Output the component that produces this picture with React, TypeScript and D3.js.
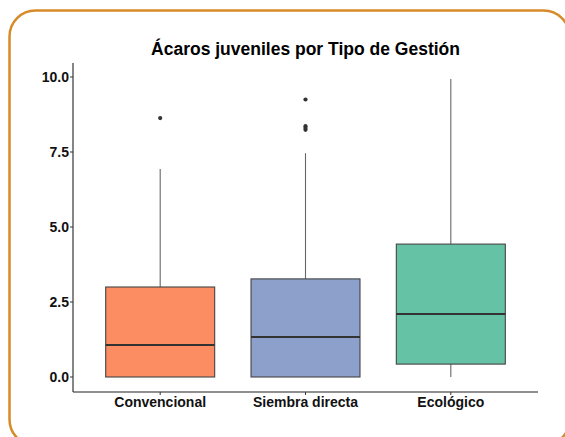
import * as d3 from 'd3'

const W = 565
const H = 437
const MARGIN = { top: 77, right: 27, bottom: 45, left: 73 }

const CATEGORIES = ['Convencional', 'Siembra directa', 'Ecológico']
const FILLS = ['#FC8D62', '#8DA0CB', '#66C2A5']
const LOWER = [0, 0, 0]
const Q1 = [0, 0, 0.43]
const MEDIAN = [1.07, 1.33, 2.1]
const Q3 = [3.0, 3.27, 4.43]
const UPPER = [6.93, 7.46, 9.93]
const OUTLIERS = [[8.63], [9.25, 8.36, 8.3, 8.24], []]
const Y_TICKS = [0, 2.5, 5, 7.5, 10]

const FONT = '"Liberation Sans", Arial, Helvetica, sans-serif'

export default function App() {
  const x0 = MARGIN.left
  const x1 = W - MARGIN.right
  const yBottom = H - MARGIN.bottom

  // ggplot style discrete axis: 0.6 expansion on both sides
  const x = d3.scaleLinear().domain([0.4, CATEGORIES.length + 0.6]).range([x0, x1])
  const y = d3.scaleLinear().domain([0, 10]).range([377, 77])
  const boxW = (x(1) - x(0)) * 0.75

  return (
    <div style={{ position: 'absolute', left: 0, top: 0 }}>
      <svg width={W} height={H} style={{ display: 'block', fontFamily: FONT }}>
        <rect x={0} y={0} width={W} height={H} fill="#fff" />
        <rect x={9.5} y={10.5} width={560} height={435} rx={26} ry={26}
          fill="none" stroke="#D68B28" strokeWidth={2.5} />

        <text x={(x0 + x1) / 2} y={55} textAnchor="middle" fontSize={17.5} fontWeight="bold" fill="#000">
          Ácaros juveniles por Tipo de Gestión
        </text>

        {/* boxes */}
        {CATEGORIES.map((c, i) => {
          const cx = x(i + 1)
          return (
            <g key={c}>
              <line x1={cx} x2={cx} y1={y(Q3[i])} y2={y(UPPER[i])} stroke="#666" strokeWidth={1.1} />
              <line x1={cx} x2={cx} y1={y(Q1[i])} y2={y(LOWER[i])} stroke="#666" strokeWidth={1.1} />
              <rect x={cx - boxW / 2} y={y(Q3[i])} width={boxW} height={y(Q1[i]) - y(Q3[i])}
                fill={FILLS[i]} stroke="#444" strokeWidth={1.1} />
              <line x1={cx - boxW / 2} x2={cx + boxW / 2} y1={y(MEDIAN[i])} y2={y(MEDIAN[i])}
                stroke="#333" strokeWidth={2} />
              {OUTLIERS[i].map((v, j) => (
                <circle key={j} cx={cx} cy={y(v)} r={2.1} fill="#333" />
              ))}
            </g>
          )
        })}

        {/* y axis */}
        <line x1={x0} x2={x0} y1={63} y2={yBottom} stroke="#222" strokeWidth={1.1} />
        {Y_TICKS.map(t => (
          <g key={t}>
            <line x1={x0 - 3} x2={x0} y1={y(t)} y2={y(t)} stroke="#333" strokeWidth={1} />
            <text x={x0 - 4} y={y(t)} dy="0.36em" textAnchor="end" fontSize={14} fontWeight="bold" fill="#111">
              {d3.format('.1f')(t)}
            </text>
          </g>
        ))}

        {/* x axis */}
        <line x1={x0} x2={x1} y1={yBottom} y2={yBottom} stroke="#222" strokeWidth={1.1} />
        {CATEGORIES.map((c, i) => (
          <g key={c}>
            <line x1={x(i + 1)} x2={x(i + 1)} y1={yBottom} y2={yBottom + 3} stroke="#333" strokeWidth={1} />
            <text x={x(i + 1)} y={yBottom + 15} textAnchor="middle" fontSize={14} fontWeight="bold" fill="#111">
              {c}
            </text>
          </g>
        ))}
      </svg>
    </div>
  )
}
